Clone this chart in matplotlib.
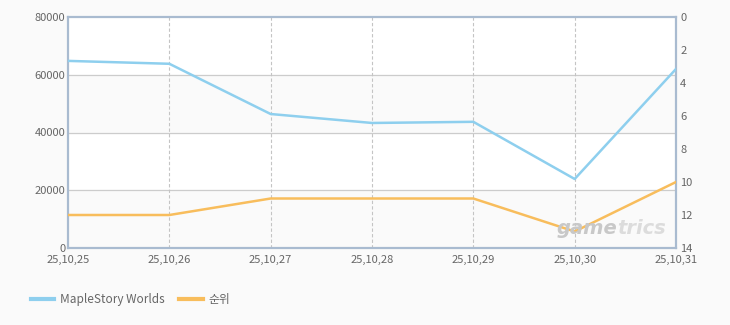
import matplotlib
matplotlib.use("Agg")
import matplotlib.pyplot as plt
from matplotlib.lines import Line2D

plt.rcParams['font.family'] = ['Noto Sans CJK KR', 'DejaVu Sans']

dates = ["25,10,25", "25,10,26", "25,10,27", "25,10,28", "25,10,29", "25,10,30", "25,10,31"]
users = [64800, 63800, 46400, 43300, 43700, 23900, 62000]
rank = [12, 12, 11, 11, 11, 13, 10]

blue = "#8ecfee"
orange = "#f8bd5c"
txt = "#666666"
frame = "#a9bbd0"

fig = plt.figure(figsize=(7.3, 3.25), dpi=100)
fig.patch.set_facecolor("#fafafa")
ax = fig.add_axes([68/730, 1-248/325, (676-68)/730, (248-17)/325])
ax.set_facecolor("white")
x = list(range(len(dates)))

ax.set_xlim(0, len(dates)-1)
ax.set_ylim(0, 80000)
for lo in (0, 40000):
    ax.axhspan(lo, lo+20000, color="#fafafa", zorder=0)
for yv in (20000, 40000, 60000):
    ax.axhline(yv, color="#cccccc", lw=0.9, zorder=1)
for xv in x[1:-1]:
    ax.axvline(xv, color="#c4c4c4", lw=0.8, ls=(0, (3, 2)), zorder=1)

ax.set_yticks([0, 20000, 40000, 60000, 80000])
ax.set_xticks(x)
ax.set_xticklabels(dates)
ax.tick_params(axis='y', length=0, labelsize=8, colors=txt, pad=2)
ax.tick_params(axis='x', length=0, labelsize=8, colors=txt, pad=5)
for s in ax.spines.values():
    s.set_color(frame)
    s.set_linewidth(1.6)

ax2 = ax.twinx()
ax2.set_ylim(14, 0)
ax2.set_yticks([0, 2, 4, 6, 8, 10, 12, 14])
ax2.tick_params(axis='y', length=0, labelsize=8, colors=txt, pad=3)
for s in ax2.spines.values():
    s.set_visible(False)

t1 = fig.text(557/730, 1-228/325, "game", fontsize=14, fontweight='bold', style='italic',
              color="#c8c8c8", va='center', ha='left', family='DejaVu Sans')
fig.canvas.draw()
bb = t1.get_window_extent()
fig.text((bb.x1 - 1)/730, 1-228/325, "trics", fontsize=14, fontweight='bold', style='italic',
         color="#dcdcdc", va='center', ha='left', family='DejaVu Sans')

ax.plot(x, users, color=blue, lw=1.8, zorder=3)
ax2.plot(x, rank, color=orange, lw=1.8, zorder=3)

handles = [Line2D([], [], color=blue, lw=3), Line2D([], [], color=orange, lw=3)]
fig.legend(handles, ["MapleStory Worlds", "순위"], loc='center left',
           bbox_to_anchor=(20/730, 1-300/325), ncol=2, frameon=False,
           fontsize=8.5, labelcolor=txt, handlelength=2.0, handletextpad=0.5,
           columnspacing=1.2)

fig.savefig("out.png", dpi=100, facecolor=fig.get_facecolor())
